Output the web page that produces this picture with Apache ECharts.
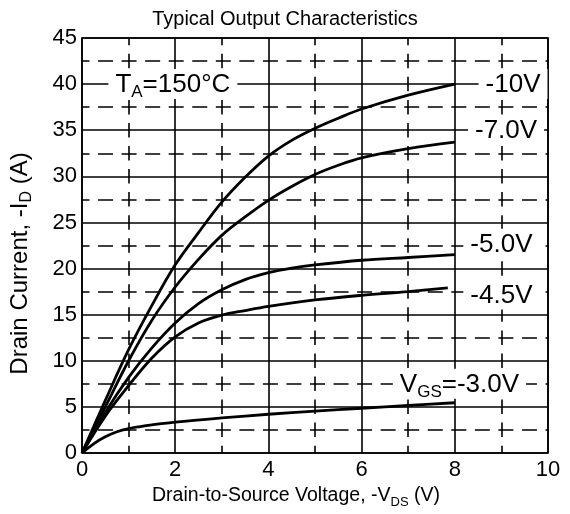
<!DOCTYPE html>
<html>
<head>
<meta charset="utf-8">
<script src="https://cdn.jsdelivr.net/npm/echarts@6/dist/echarts.min.js"></script>
<style>
  html, body { margin: 0; padding: 0; background: #fff; }
  #chart { width: 570px; height: 514px; }
</style>
</head>
<body>
<div id="chart"></div>
<script>
// -VDS (V) / -ID (A), one list per gate voltage
var vgs10 = [[0,0],[0.5,5.7],[1,11.2],[1.5,16.0],[2,20.4],[2.5,23.9],[3,27.2],[3.5,29.9],[4,32.2],[4.5,33.9],[5,35.2],[5.5,36.3],[6,37.3],[7,38.8],[8,40]];
var vgs7 = [[0,0],[0.5,5.0],[1,10.0],[1.5,14.4],[2,18.0],[2.5,21.0],[3,23.6],[3.5,25.6],[4,27.4],[4.5,28.9],[5,30.2],[5.5,31.2],[6,32.0],[7,33.0],[8,33.7]];
var vgs5 = [[0,0],[0.5,4.4],[1,8.2],[1.5,11.4],[2,14.1],[2.5,16.2],[3,17.7],[3.5,18.8],[4,19.55],[4.5,20.05],[5,20.4],[6,20.9],[7,21.2],[8,21.5]];
var vgs45 = [[0,0],[0.5,4.0],[1,7.3],[1.5,10.3],[2,12.6],[2.5,14.1],[3,14.95],[3.5,15.45],[4,15.9],[5,16.6],[6,17.1],[7,17.5],[7.85,17.9]];
var vgs3 = [[0,0],[0.25,1.0],[0.5,1.75],[0.75,2.3],[1,2.65],[1.25,2.87],[1.5,3.05],[2,3.35],[3,3.8],[4,4.2],[5,4.55],[6,4.85],[7,5.15],[8,5.45]];

var xTicks = [0, 2, 4, 6, 8, 10];
var yTicks = [0, 5, 10, 15, 20, 25, 30, 35, 40, 45];

// curve captions: [x, y, text]
var captions = [
  [1.95, 40, '{t|T}{s|A}{t|=150°C}'],
  [9.25, 40, '{t|-10V}'],
  [9.1, 35, '{t|-7.0V}'],
  [9.0, 22.7, '{t|-5.0V}'],
  [9.0, 17.2, '{t|-4.5V}'],
  [8.1, 7.5, '{t|V}{s|GS}{t|=-3.0V}']
];

var font = '"Liberation Sans", Arial, sans-serif';

var myChart = echarts.init(document.getElementById('chart'), null, { renderer: 'canvas' });

function curve(data) {
  return {
    type: 'line',
    data: data,
    smooth: 0.35,
    showSymbol: false,
    silent: true,
    z: 3,
    lineStyle: { color: '#000', width: 2.8 }
  };
}

function richText(size, subSize) {
  return {
    t: { fontFamily: font, fontSize: size, color: '#000', lineHeight: size + 2, verticalAlign: 'bottom' },
    s: { fontFamily: font, fontSize: subSize, color: '#000', lineHeight: subSize, verticalAlign: 'bottom', padding: [0, 0, -3, 0] }
  };
}

var option = {
  animation: false,
  backgroundColor: '#fff',
  title: {
    text: 'Typical Output Characteristics',
    left: 'center',
    top: 4,
    textStyle: { fontFamily: font, fontSize: 20, fontWeight: 'normal', color: '#000' }
  },
  grid: {
    left: 77, right: 22, top: 38, bottom: 61,
    show: true, borderColor: '#000', borderWidth: 1.6, backgroundColor: 'transparent',
    containLabel: false
  },
  xAxis: {
    type: 'value',
    min: 0, max: 10, interval: 2,
    name: '{t|Drain-to-Source Voltage, -V}{s|DS}{t| (V)}',
    nameLocation: 'middle',
    nameGap: 30,
    nameTextStyle: { rich: richText(19.5, 13), padding: [0, 38, 0, 0] },
    axisLine: { show: false },
    axisTick: { show: false },
    axisLabel: {
      margin: 6, fontFamily: font, fontSize: 22, color: '#000',
      customValues: xTicks
    },
    splitLine: { show: true, lineStyle: { color: '#000', width: 1.6 } },
    minorTick: { show: false, splitNumber: 2 },
    minorSplitLine: { show: true, lineStyle: { color: '#000', width: 1.6, type: [14.5, 8.55], dashOffset: 7.25 } }
  },
  yAxis: {
    type: 'value',
    min: 0, max: 45, interval: 5,
    name: '{t|Drain Current, -I}{s|D}{t| (A)}',
    nameLocation: 'middle',
    nameGap: 50,
    nameTextStyle: { rich: richText(24, 16), padding: [0, 36, 0, 0] },
    axisLine: { show: false },
    axisTick: { show: false },
    axisLabel: {
      margin: 5, fontFamily: font, fontSize: 22, color: '#000',
      customValues: yTicks
    },
    splitLine: { show: true, lineStyle: { color: '#000', width: 1.6 } },
    minorTick: { show: false, splitNumber: 2 },
    minorSplitLine: { show: true, lineStyle: { color: '#000', width: 1.6, type: [15, 8.55], dashOffset: 7.5 } }
  },
  series: [
    curve(vgs10),
    curve(vgs7),
    curve(vgs5),
    curve(vgs45),
    curve(vgs3),
    {
      type: 'scatter',
      silent: true,
      symbolSize: 0,
      z: 5,
      itemStyle: { opacity: 1 },
      data: captions.map(function (c) { return { value: [c[0], c[1]], name: c[2] }; }),
      label: {
        show: true,
        position: 'inside',
        formatter: function (p) { return p.name; },
        backgroundColor: '#fff',
        padding: [1, 7, 1, 7],
        rich: richText(26, 17)
      }
    }
  ]
};

myChart.setOption(option);
window.addEventListener('resize', function () { myChart.resize(); });
</script>
</body>
</html>
